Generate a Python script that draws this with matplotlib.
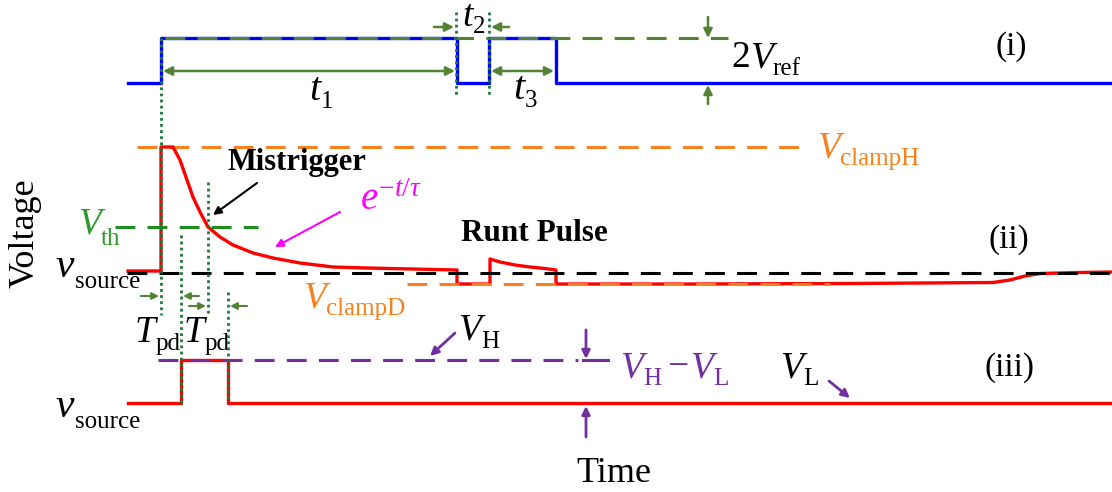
import matplotlib
matplotlib.use("Agg")
from matplotlib import pyplot as plt

plt.rcParams['font.family'] = ['Liberation Serif', 'DejaVu Serif']
plt.rcParams['mathtext.fontset'] = 'custom'
plt.rcParams['mathtext.rm'] = 'Liberation Serif'
plt.rcParams['mathtext.it'] = 'Liberation Serif:italic'

# time axis runs left->right, voltage axis is drawn top->bottom (screen units)
# (i) comparator input pulse
in_t = [128, 161, 161, 457, 457, 489, 489, 556, 556, 1112]
in_v = [83, 83, 38, 38, 83, 83, 38, 38, 83, 83]

# (ii) source node: clamp, exponential decay, runt pulse, slow recovery
src_t = [128, 161, 161, 173, 180, 187, 193, 200, 208, 220, 233, 253, 273, 300,
         333, 367, 457, 457, 490, 490, 500, 515, 530, 545, 556, 556, 700, 850,
         993, 1010, 1025, 1040, 1080, 1112]
src_v = [271, 271, 147, 147, 160, 180, 197, 212, 227, 237, 245, 253, 258, 263,
         267, 268, 270, 284, 284, 259, 262, 265, 267, 268.5, 270, 284, 284, 283.5,
         282.5, 280, 276, 273.5, 272.5, 272]

# (iii) comparator output
out_t = [128, 181, 181, 228, 228, 1112]
out_v = [403, 403, 360, 360, 403, 403]

# reference levels: level, start, end
vref2 = (38, 165, 728)
vclamp_h = (147, 137, 808)
vclamp_d = (284, 407, 830)
vth = (227, 115, 258)
vsrc = (273, 127, 1112)
vh = (360, 158, 578)

# timing markers (dotted): time, top, bottom
marks_t = [161, 456, 489, 181, 208, 228]
marks_top = [38, 12, 12, 235, 182, 292]
marks_bot = [315, 97, 97, 403, 315, 403]

BLUE = '#0000ff'
RED = '#ff0000'
GRN = '#548235'
DGRN = '#1a7a3a'
TH = '#1e8c1e'
ORG = '#f5821f'
PUR = '#7030a0'
MAG = '#ff00ff'

fig = plt.figure(figsize=(11.12, 4.92), dpi=100)
ax = fig.add_axes([0, 0, 1, 1])
ax.set_xlim(0, 1112)
ax.set_ylim(492, 0)
ax.axis('off')
rend = fig.canvas.get_renderer()

dash = (0, (6.5, 4))

def hline(lv, color, lw=2.2, ls=dash, z=3):
    ax.plot([lv[1], lv[2]], [lv[0], lv[0]], color=color, lw=lw, ls=ls, zorder=z)

def arrow(x0, y0, x1, y1, color, style='-|>', lw=1.8, ms=13):
    ax.annotate('', xy=(x1, y1), xytext=(x0, y0),
                arrowprops=dict(arrowstyle=style, color=color, lw=lw,
                                mutation_scale=ms, shrinkA=0, shrinkB=0))

def label(x, y, parts, color='black', size=27, subsize=18, drop=9):
    # parts: (text, kind, gap) with kind 'it', 'rm' or 'sub'
    cur = x
    for s, kind, gap in parts:
        cur += gap
        if kind == 'sub':
            t = ax.text(cur, y + drop, s, fontsize=subsize, color=color, va='baseline')
        else:
            t = ax.text(cur, y, s, fontsize=size, color=color, va='baseline',
                        style='italic' if kind == 'it' else 'normal')
        cur += t.get_window_extent(renderer=rend).width

# traces
ax.plot(in_t, in_v, color=BLUE, lw=2.4, zorder=2)
ax.plot(src_t, src_v, color=RED, lw=2.4, zorder=2)
ax.plot(out_t, out_v, color=RED, lw=2.4, zorder=2)

# reference levels
hline(vref2, GRN, z=3)
hline(vclamp_h, ORG, z=1)
hline(vclamp_d, ORG, z=3)
hline(vth, TH, z=3)
hline(vsrc, 'black', z=3)
hline(vh, PUR, z=3)
ax.plot([583, 608], [360, 360], color=PUR, lw=2.2, zorder=3)

for x, a, b in zip(marks_t, marks_top, marks_bot):
    ax.plot([x, x], [a, b], color=DGRN, lw=2.0, ls=(0, (1, 1.2)), zorder=4)

# panel (i) annotations
arrow(163, 71, 455, 71, GRN, '<|-|>')
arrow(491, 71, 554, 71, GRN, '<|-|>')
arrow(434, 27, 454, 27, GRN)
arrow(509, 27, 491, 27, GRN)
arrow(708, 17, 708, 38, GRN)
arrow(708, 104, 708, 85, GRN)
label(309, 100, [('t', 'it', 0), ('1', 'sub', 1)], size=29, drop=8)
label(462, 26, [('t', 'it', 0), ('2', 'sub', 1)], size=27, drop=7)
label(513, 99, [('t', 'it', 0), ('3', 'sub', 1)], size=29, drop=8)
label(731, 67, [('2', 'rm', 0), ('V', 'it', 0), ('ref', 'sub', 0)], drop=8)
ax.text(1011, 47, '(i)', fontsize=24, ha='center', va='center')

# panel (ii) annotations
label(817, 157, [('V', 'it', 0), ('clampH', 'sub', 0)], color=ORG, drop=8)
label(303, 307, [('V', 'it', 0), ('clampD', 'sub', 0)], color=ORG, drop=8)
label(78, 233, [('V', 'it', 0), ('th', 'sub', 0)], color='#2a9a2a', drop=12)
label(55, 277, [('v', 'it', 0), ('source', 'sub', 1)], size=30, drop=11)
ax.text(227, 170, 'Mistrigger', fontsize=22, fontweight='bold', va='baseline')
arrow(257, 183, 213, 215, 'black', lw=1.5, ms=12)
ax.text(360, 210, r'$e^{-t/\tau}$', fontsize=28, va='baseline', color=MAG)
arrow(340, 212, 275, 247, MAG, lw=1.5, ms=12)
ax.text(461, 241, 'Runt Pulse', fontsize=22.5, fontweight='bold', va='baseline')
ax.text(1009, 240, '(ii)', fontsize=24, ha='center', va='center')

# propagation delays
arrow(141, 296, 159, 296, GRN, lw=1.5, ms=10)
arrow(199, 296, 183, 296, GRN, lw=1.5, ms=10)
arrow(189, 306, 206, 306, GRN, lw=1.5, ms=10)
arrow(247, 306, 230, 306, GRN, lw=1.5, ms=10)
label(135, 342, [('T', 'it', 0), ('pd', 'sub', 0)], drop=8)
label(184, 342, [('T', 'it', 0), ('pd', 'sub', 0)], drop=8)

# panel (iii) annotations
label(55, 417, [('v', 'it', 0), ('source', 'sub', 1)], size=30, drop=11)
label(458, 340, [('V', 'it', 0), ('H', 'sub', 0)], drop=8)
arrow(455, 333, 430, 356, PUR, lw=2.0, ms=12)
arrow(586, 330, 586, 359, PUR, lw=2.0, ms=12)
arrow(586, 437, 586, 406, PUR, lw=2.0, ms=12)
label(620, 377, [('V', 'it', 0), ('H', 'sub', 0), ('\u2212', 'rm', 6),
                 ('V', 'it', 2), ('L', 'sub', 0)], color=PUR, drop=8)
label(780, 377, [('V', 'it', 0), ('L', 'sub', 0)], drop=8)
arrow(829, 381, 850, 398, PUR, lw=2.0, ms=12)
ax.text(1010, 368, '(iii)', fontsize=24, ha='center', va='center')

# axis titles
ax.text(614, 474, 'Time', fontsize=26, ha='center', va='center')
ax.text(25, 233, 'Voltage', fontsize=26, ha='center', va='center', rotation=90)

fig.savefig('out.png', dpi=100)
